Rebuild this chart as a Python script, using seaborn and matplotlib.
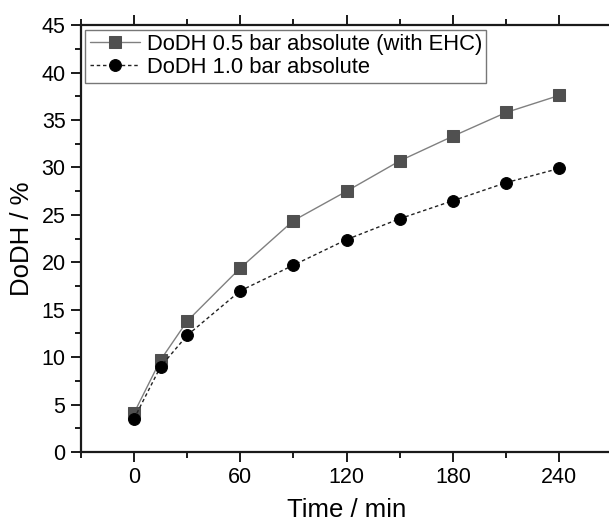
import matplotlib
matplotlib.use("Agg")
import matplotlib.pyplot as plt
import seaborn as sns
import pandas as pd
from matplotlib.ticker import MultipleLocator

sns.set_style("ticks")
plt.rcParams['font.family'] = ['Liberation Sans', 'DejaVu Sans']
plt.rcParams['text.color'] = 'black'
plt.rcParams['axes.labelcolor'] = 'black'
plt.rcParams['xtick.color'] = 'black'
plt.rcParams['ytick.color'] = 'black'

# data
time_min = [0, 15, 30, 60, 90, 120, 150, 180, 210, 240]
dodh_05_ehc = [4.1, 9.7, 13.8, 19.4, 24.4, 27.5, 30.7, 33.3, 35.8, 37.6]
dodh_10 = [3.5, 9.0, 12.3, 17.0, 19.7, 22.4, 24.6, 26.5, 28.4, 29.9]
label_05 = 'DoDH 0.5 bar absolute (with EHC)'
label_10 = 'DoDH 1.0 bar absolute'

df_05 = pd.DataFrame({'time': time_min, 'dodh': dodh_05_ehc})
df_10 = pd.DataFrame({'time': time_min, 'dodh': dodh_10})

fig = plt.figure(figsize=(6.09, 5.25), dpi=100)
ax = fig.add_axes([0.1327, 0.139, 0.873, 0.813])

sns.lineplot(data=df_05, x='time', y='dodh', ax=ax, color='#808080', lw=1.0,
             marker='s', markersize=8, markerfacecolor='#505050',
             markeredgecolor='#505050', label=label_05)
sns.lineplot(data=df_10, x='time', y='dodh', ax=ax, color='#222222', lw=1.0,
             linestyle=(0, (2.5, 2)), marker='o', markersize=8.5,
             markerfacecolor='black', markeredgecolor='black', label=label_10)

ax.set_xlim(-30, 270)
ax.set_ylim(0, 45)
ax.xaxis.set_major_locator(MultipleLocator(60))
ax.xaxis.set_minor_locator(MultipleLocator(30))
ax.yaxis.set_major_locator(MultipleLocator(5))
ax.yaxis.set_minor_locator(MultipleLocator(2.5))

for s in ax.spines.values():
    s.set_linewidth(1.6)
    s.set_color('#1a1a1a')
# the reference is cropped just before the right frame line
ax.spines['right'].set_visible(False)

ax.tick_params(which='both', direction='out', top=True, right=False,
               width=1.4, color='#1a1a1a')
ax.tick_params(which='major', length=7, labelsize=15.5, pad=4)
ax.tick_params(which='minor', length=4)
ax.tick_params(axis='x', labeltop=False)

ax.set_xlabel('Time / min', fontsize=18.5, labelpad=7)
ax.set_ylabel('DoDH / %', fontsize=18.5, labelpad=5)

leg = ax.legend(loc='upper left', fontsize=15.8, frameon=True, fancybox=False,
                borderaxespad=0.2, borderpad=0.2, handlelength=2.3,
                handletextpad=0.3, labelspacing=0.1)
leg.get_frame().set_edgecolor('#555555')
leg.get_frame().set_linewidth(1.0)

fig.savefig('out.png', dpi=100)
